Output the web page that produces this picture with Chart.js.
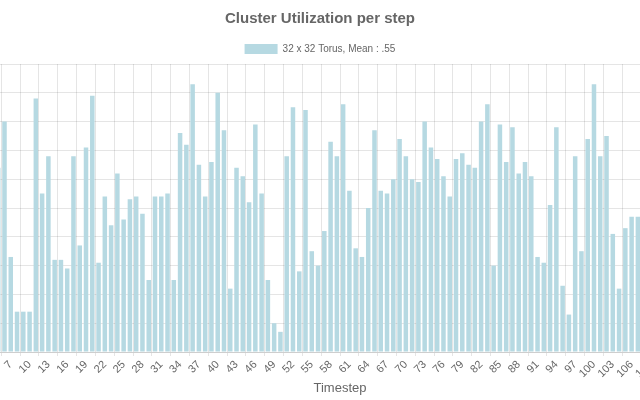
<!DOCTYPE html>
<html>
<head>
<meta charset="utf-8">
<script src="https://cdn.jsdelivr.net/npm/chart.js@4.4.0/dist/chart.umd.min.js"></script>
<style>
  html, body { margin: 0; padding: 0; overflow: hidden; background: #fff; }
  /* the original chart is wider than the window, so it hangs over both sides */
  #wrap { position: absolute; left: -70px; top: 0; width: 780px; height: 400px; }
</style>
</head>
<body>
<div id="wrap"><canvas id="utilChart"></canvas></div>
<script>
// timesteps 1..118
const steps = [];
for (let i = 1; i <= 118; i++) steps.push(String(i));

// utilization per step (null = outside the visible window)
const utilization = [
  null, null, null, null, 0.64, 0.80, 0.33, 0.14, 0.14, 0.14,   // 1-10
  0.88, 0.55, 0.68, 0.32, 0.32, 0.29, 0.68, 0.37, 0.71, 0.89,   // 11-20
  0.31, 0.54, 0.44, 0.62, 0.46, 0.53, 0.54, 0.48, 0.25, 0.54,   // 21-30
  0.54, 0.55, 0.25, 0.76, 0.72, 0.93, 0.65, 0.54, 0.66, 0.90,   // 31-40
  0.77, 0.22, 0.64, 0.61, 0.52, 0.79, 0.55, 0.25, 0.10, 0.07,   // 41-50
  0.68, 0.85, 0.28, 0.84, 0.35, 0.30, 0.42, 0.73, 0.68, 0.86,   // 51-60
  0.56, 0.36, 0.33, 0.50, 0.77, 0.56, 0.55, 0.60, 0.74, 0.68,   // 61-70
  0.60, 0.59, 0.80, 0.71, 0.67, 0.61, 0.54, 0.67, 0.69, 0.65,   // 71-80
  0.64, 0.80, 0.86, 0.30, 0.79, 0.66, 0.78, 0.62, 0.66, 0.61,   // 81-90
  0.33, 0.31, 0.51, 0.78, 0.23, 0.13, 0.68, 0.35, 0.74, 0.93,   // 91-100
  0.68, 0.75, 0.41, 0.22, 0.43, 0.47, 0.47, null, null, null,   // 101-110
  null, null, null, null, null, null, null, null                // 111-118
];

const seriesLabel = '32 x 32 Torus, Mean : .55';
const chartTitle = 'Cluster Utilization per step';
const axisTitle = 'Timestep';

Chart.defaults.font.family = '"Liberation Sans", Arial, sans-serif';
Chart.defaults.color = '#666';

const utilConfig = {
  type: 'bar',
  data: {
    labels: steps,
    datasets: [{
      label: seriesLabel,
      data: utilization,
      backgroundColor: '#b6d9e2',
      borderWidth: 0
    }]
  },
  options: {
    responsive: true,
    maintainAspectRatio: false,
    animation: false,
    layout: { padding: 0 },
    plugins: {
      title: {
        display: true,
        text: chartTitle,
        color: '#666',
        font: { size: 15, weight: 'bold' },
        padding: { top: 10, bottom: 10 }
      },
      legend: {
        labels: {
          boxWidth: 33,
          boxHeight: 10,
          font: { size: 10 },
          padding: 6
        }
      },
      tooltip: { enabled: false }
    },
    scales: {
      x: {
        grid: { color: 'rgba(0,0,0,0.1)', tickLength: 4 },
        ticks: {
          autoSkip: false,
          minRotation: 45,
          maxRotation: 45,
          padding: 2,
          font: { size: 11 },
          callback: function (value, index) {
            return index % 3 === 0 ? this.getLabelForValue(value) : null;
          }
        },
        title: { display: true, text: axisTitle, font: { size: 13 }, padding: { top: 4, bottom: 4 } },
        afterFit: (scale) => {
          scale.height = 48;
          scale.paddingRight = 0;
        }
      },
      y: {
        min: 0,
        max: 1,
        grid: { color: 'rgba(0,0,0,0.1)' },
        ticks: { stepSize: 0.1 },
        afterFit: (scale) => { scale.width = 40; }
      }
    }
  }
};

const utilChart = new Chart(
  document.getElementById('utilChart'),
  utilConfig
);
</script>
</body>
</html>
